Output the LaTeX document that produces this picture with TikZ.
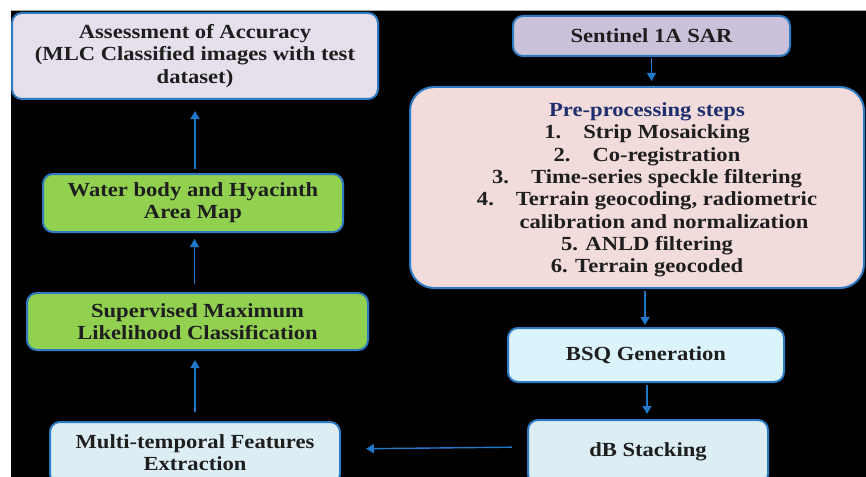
\documentclass[tikz,border=0pt]{standalone}
\usepackage{fontspec}
\setmainfont{Liberation Serif}[FakeStretch=1.13]
\usetikzlibrary{arrows.meta}
\definecolor{bordblue}{HTML}{2E7BC4}
\definecolor{arrblue}{HTML}{1F78C8}
\definecolor{txtgray}{HTML}{1E1E1E}
\definecolor{navy}{HTML}{1F2F6E}
\definecolor{lavlight}{HTML}{E6E0EC}
\definecolor{lav}{HTML}{CCC1DA}
\definecolor{pinkish}{HTML}{F2DCDB}
\definecolor{greenbox}{HTML}{92D050}
\definecolor{cyanlight}{HTML}{DBF3FA}
\definecolor{cyanpale}{HTML}{DCEEF4}
\begin{document}
\begin{tikzpicture}[x=1pt,y=-1pt,
  box/.style={draw=bordblue, line width=2pt, rounded corners=10pt, inner sep=0pt,
    text=txtgray, align=center, font=\fontsize{20pt}{22.3pt}\selectfont\bfseries},
  arr/.style={draw=arrblue, line width=1.4pt, -{Triangle[length=8pt,width=9pt]}}]
\useasboundingbox (0,0) rectangle (866,476);
\fill[black] (11,11) rectangle (870,480);
\fill[white] (0,0) rectangle (866,10);
\draw[gray!70, line width=1pt] (11,10.5) -- (866,10.5);
% boxes
\node[box, fill=lavlight, minimum width=366pt, minimum height=86pt] (acc) at (195,56)
  {Assessment of Accuracy\\(MLC Classified images with test\\dataset)};
\node[box, fill=lav, minimum width=277pt, minimum height=40pt] (sen) at (651.5,36)
  {Sentinel 1A SAR};
\node[box, fill=pinkish, minimum width=454pt, minimum height=201pt, rounded corners=24pt] (pre) at (637,187.5) {};
\node[align=center, text=txtgray, font=\fontsize{20pt}{22.3pt}\selectfont\bfseries, inner sep=0pt] (pretext) at (647,190)
  {\textcolor{navy}{Pre-processing steps}\\
   1.\hspace{1.1em}Strip Mosaicking\\
   2.\hspace{1.1em}Co-registration\\
   3.\hspace{1.1em}Time-series speckle filtering\\
   4.\hspace{1.1em}Terrain geocoding, radiometric\\
   \hspace*{1.7em}calibration and normalization\\
   5. ANLD filtering\\
   6. Terrain geocoded};
\node[box, fill=cyanlight, minimum width=276pt, minimum height=54pt] (bsq) at (646,355)
  {BSQ Generation};
\node[box, fill=cyanpale, minimum width=240pt, minimum height=64pt] (db) at (648,452)
  {dB Stacking};
\node[box, fill=cyanpale, minimum width=290pt, minimum height=62pt] (mte) at (195,453)
  {Multi-temporal Features\\Extraction};
\node[box, fill=greenbox, minimum width=341pt, minimum height=57pt] (sup) at (197.5,321.5)
  {Supervised Maximum\\Likelihood Classification};
\node[box, fill=greenbox, minimum width=300pt, minimum height=58pt] (wat) at (193,203)
  {Water body and Hyacinth\\Area Map};
% connectors
\draw[arr, shorten <=1pt, shorten >=5pt] (sen.south) -- (sen.south |- pre.north);
\draw[arr, shorten <=2pt, shorten >=2pt] ([xshift=8pt]pre.south) -- ([xshift=8pt]pre.south |- bsq.north);
\draw[arr, shorten <=2pt, shorten >=5pt] ([xshift=1pt]bsq.south) -- ([xshift=1pt]bsq.south |- db.north);
\draw[arr, shorten <=15pt, shorten >=25pt] ([yshift=5pt]db.west) -- ([yshift=4pt]mte.east);
\draw[arr, shorten <=9pt, shorten >=9pt] (mte.north) -- (mte.north |- sup.south);
\draw[arr, shorten <=8pt, shorten >=6pt] ([xshift=-3pt]sup.north) -- ([xshift=-3pt]sup.north |- wat.south);
\draw[arr, shorten <=4pt, shorten >=11pt] ([xshift=2pt]wat.north) -- ([xshift=2pt]wat.north |- acc.south);
\end{tikzpicture}
\end{document}
